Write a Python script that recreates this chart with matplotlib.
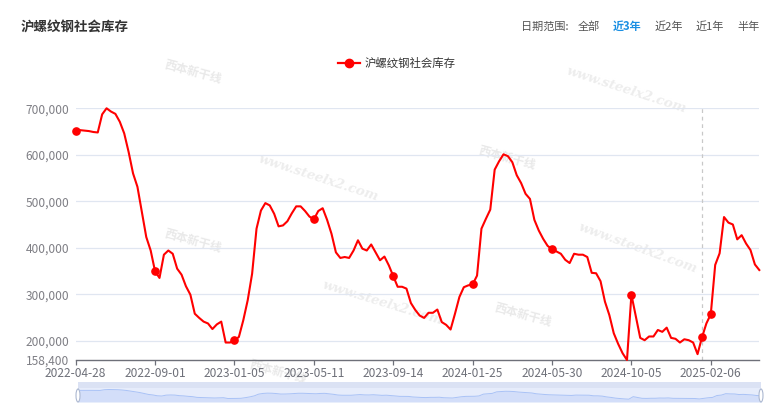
import matplotlib
matplotlib.use("Agg")
import matplotlib.pyplot as plt
import matplotlib.patches as mpatches
import matplotlib.lines as mlines
from matplotlib.ticker import FixedLocator, FuncFormatter
import pandas as pd

plt.rcParams['font.family'] = ['Noto Sans CJK SC', 'DejaVu Sans']

# ---------------- data ----------------
title = "沪螺纹钢社会库存"
series_name = "沪螺纹钢社会库存"
range_label = "日期范围:"
range_options = ["全部", "近3年", "近2年", "近1年", "半年"]
range_active = "近3年"

tick_dates = ["2022-04-28", "2022-09-01", "2023-01-05", "2023-05-11", "2023-09-14",
              "2024-01-25", "2024-05-30", "2024-10-05", "2025-02-06"]
points_per_segment = [18, 18, 18, 18, 18, 18, 18, 18, 12]

values = [
    651000, 653000, 652000, 651000, 649000, 648000, 687000, 700000, 693000, 688000,
    671000, 646000, 606000, 560000, 531000, 477000, 423000, 394000, 349000, 335000,
    385000, 394000, 387000, 355000, 342000, 317000, 299000, 258000, 249000, 241000,
    237000, 225000, 235000, 241000, 196000, 196000, 201000, 208000, 244000, 287000,
    344000, 441000, 480000, 496000, 491000, 473000, 446000, 448000, 457000, 474000,
    489000, 489000, 479000, 467000, 461000, 479000, 485000, 460000, 430000, 390000,
    378000, 380000, 378000, 394000, 416000, 398000, 394000, 407000, 390000, 373000,
    381000, 362000, 339000, 316000, 316000, 312000, 281000, 266000, 254000, 249000,
    260000, 260000, 267000, 240000, 234000, 224000, 258000, 294000, 315000, 319000,
    321000, 340000, 441000, 462000, 482000, 568000, 586000, 601000, 597000, 584000,
    556000, 539000, 516000, 505000, 460000, 437000, 419000, 404000, 397000, 392000,
    387000, 374000, 367000, 387000, 385000, 385000, 380000, 346000, 345000, 328000,
    284000, 255000, 216000, 193000, 173000, 158400, 299000, 252000, 206000, 201000,
    209000, 209000, 223000, 219000, 228000, 206000, 204000, 196000, 203000, 201000,
    196000, 171000, 207000, 237000, 257000, 363000, 388000, 466000, 454000, 450000,
    418000, 427000, 409000, 395000, 364000, 352000,
]
hover_date = "2025-01-23"

y_ticks = [158400, 200000, 300000, 400000, 500000, 600000, 700000]

# categories (weekly dates anchored on the labelled ticks)
dates = []
for d, n in zip(tick_dates, points_per_segment):
    for s in pd.date_range(d, periods=n, freq="7D"):
        dates.append(s.strftime("%Y-%m-%d"))
dates = dates[:len(values)]
x = list(range(len(values)))
tick_idx = [dates.index(d) for d in tick_dates]
hover_idx = dates.index(hover_date) if hover_date in dates else 142

# ---------------- figure ----------------
W, H = 771, 416
fig = plt.figure(figsize=(W / 100, H / 100), dpi=100)
fig.patch.set_facecolor("white")


def fx(px):
    return px / W


def fy(py):
    return 1 - py / H


left, right, top, bottom = 75.7, 759.3, 108.3, 360.0
ax = fig.add_axes([fx(left), fy(bottom), (right - left) / W, (bottom - top) / H])
ax.patch.set_alpha(0)

RED = "#ff0000"
ax.plot(x, values, color=RED, lw=1.5, zorder=3, clip_on=False, solid_joinstyle="round")
mk = tick_idx + [hover_idx]
ax.plot([x[i] for i in mk], [values[i] for i in mk], ls="none", marker="o",
        ms=5.2, color=RED, zorder=4, clip_on=False)

ax.set_xlim(0, len(values) - 1)
ax.set_ylim(y_ticks[0], y_ticks[-1])

# hover pointer
ax.axvline(x[hover_idx], color="#c8c8c8", lw=0.9, ls=(0, (3, 3)), zorder=2)

# grid
for v in y_ticks[1:]:
    ax.axhline(v, color="#e0e6f1", lw=0.9, zorder=1)

for s in ["top", "right", "left"]:
    ax.spines[s].set_visible(False)
ax.spines["bottom"].set_color("#6e7079")
ax.spines["bottom"].set_linewidth(1.0)

ax.yaxis.set_major_locator(FixedLocator(y_ticks))
ax.yaxis.set_major_formatter(FuncFormatter(lambda v, p: f"{int(round(v)):,}"))
ax.tick_params(axis="y", length=0, pad=4.5, labelsize=8.6, labelcolor="#7f7f85")

ax.set_xticks(tick_idx)
ax.set_xticklabels(tick_dates)
ax.tick_params(axis="x", length=3.6, width=0.9, color="#6e7079", pad=1.2,
               labelsize=8.6, labelcolor="#6e7079")

# ---------------- title / range selector ----------------
fig.text(fx(20.7), fy(26.7), title, fontsize=9.7, fontweight="bold", color="#333333",
         ha="left", va="center")
fig.text(fx(520.7), fy(26.7), range_label, fontsize=8.0, color="#555555", ha="left", va="center")
opt_x = [578, 613, 655, 696, 737]
for ox, o in zip(opt_x, range_options):
    active = (o == range_active)
    fig.text(fx(ox), fy(26.7), o, fontsize=8.0,
             color="#1a8fe3" if active else "#555555",
             fontweight="bold" if active else "normal", ha="left", va="center")

# ---------------- legend ----------------
fig.add_artist(mlines.Line2D([fx(338), fx(360)], [fy(63.3), fy(63.3)], color=RED, lw=1.6,
                             transform=fig.transFigure))
fig.add_artist(mlines.Line2D([fx(349)], [fy(63.3)], color=RED, marker="o", ms=6.0,
                             transform=fig.transFigure))
fig.text(fx(365), fy(63.3), series_name, fontsize=8.2, color="#333333", ha="left", va="center")

# ---------------- watermarks ----------------
wm_www = [(318, 178, -18), (383, 303, -17), (638, 248, -20), (626, 90, -18)]
for wx, wy, rot in wm_www:
    ax.text(fx(wx), fy(wy), "www.steelx2.com", transform=fig.transFigure, rotation=rot,
            rotation_mode="anchor", ha="center", va="center", fontsize=9.5,
            family="DejaVu Serif", fontweight="bold", style="italic",
            color="#ededed", zorder=0.5, clip_on=False)
wm_logo = [(193, 72, -15), (193, 241, -15), (507, 158, -15), (523, 315, -15), (278, 372, -15)]
for wx, wy, rot in wm_logo:
    ax.text(fx(wx), fy(wy), "西本新干线", transform=fig.transFigure, rotation=rot,
            rotation_mode="anchor", ha="center", va="center", fontsize=8.5,
            fontweight="bold", style="italic", color="#e9e9e9", zorder=0.5, clip_on=False)

# ---------------- data zoom slider ----------------
sl, sr, st, sb = 78.0, 761.0, 382.0, 402.0
sax = fig.add_axes([fx(sl), fy(sb), (sr - sl) / W, (sb - st) / H])
sax.set_xlim(0, len(values) - 1)
sax.set_ylim(0, y_ticks[-1] * (sb - st) / 12.5)
sax.axis("off")
sax.add_patch(mpatches.Rectangle((0, 0), 1, 1, transform=sax.transAxes,
                                 facecolor="#e6ecfb", edgecolor="#d2dbee", lw=0.8, zorder=0))
sax.add_patch(mpatches.Rectangle((0, 14 / 20), 1, 6 / 20, transform=sax.transAxes,
                                 facecolor="#dbe2f4", edgecolor="none", zorder=1))
sax.fill_between(x, 0, values, color="#d3def9", lw=0, zorder=2)
sax.plot(x, values, color="#a9c2f6", lw=0.7, zorder=3)
for hx in (sl, sr):
    fig.add_artist(mpatches.Ellipse((fx(hx), fy(395.5)), 4 / W, 13 / H,
                                    transform=fig.transFigure, facecolor="white",
                                    edgecolor="#acb8d1", lw=0.8))

fig.savefig("out.png", dpi=100)
